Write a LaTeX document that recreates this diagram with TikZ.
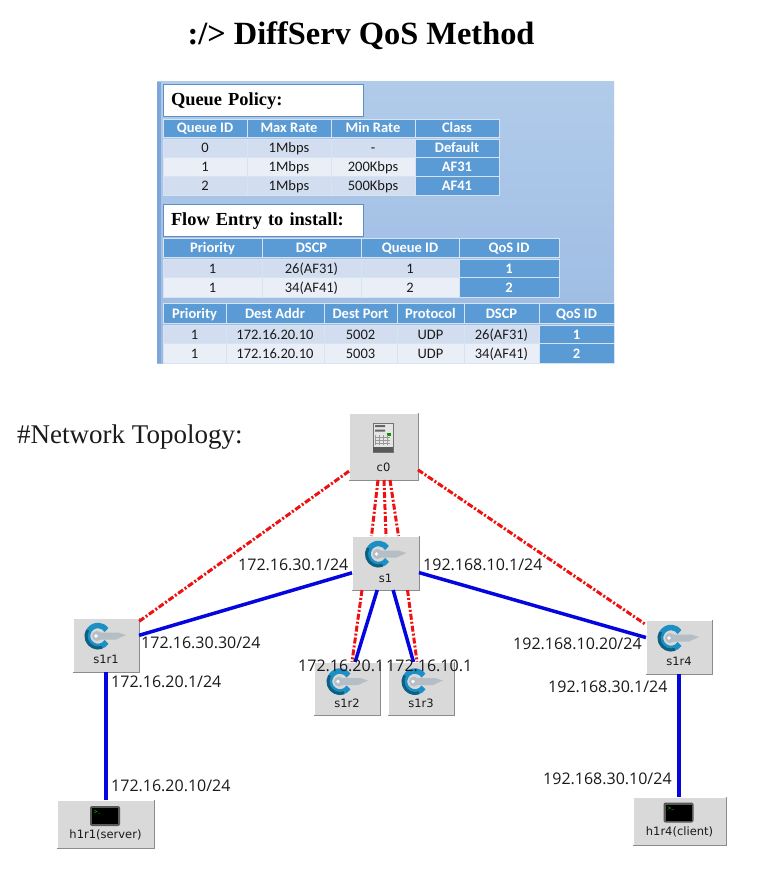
\documentclass[tikz,border=0pt]{standalone}
\usepackage{fontspec}
\setmainfont{Liberation Serif}
\newfontfamily\tablefont{Carlito}
\newfontfamily\labelfont{Open Sans}
\newfontfamily\devfont{DejaVu Sans}
\usetikzlibrary{calc}
\definecolor{hdr}{HTML}{5B9BD5}
\definecolor{rowa}{HTML}{D2DEEF}
\definecolor{rowb}{HTML}{EAEFF7}
\definecolor{cellline}{HTML}{D5E3F3}
\definecolor{paneltop}{HTML}{B1CBEA}
\definecolor{panelbot}{HTML}{9BBAE2}
\definecolor{panelstrip}{HTML}{7EA6D8}
\definecolor{boxline}{HTML}{5F8FC4}
\definecolor{devfill}{HTML}{D9D9D9}
\definecolor{ringa}{HTML}{1C90C4}
\definecolor{ringb}{HTML}{0F5F80}
\definecolor{keygrey}{HTML}{B4BEC4}
\definecolor{linkblue}{HTML}{0505E0}
\definecolor{linkred}{HTML}{EE1111}
\definecolor{txt}{HTML}{1A1A1A}
\tikzset{
  cell/.style={inner sep=0pt,outer sep=0pt,draw=cellline,line width=0.8pt,font=\tablefont\fontsize{14.5}{14.5}\selectfont,text height=10.5pt,text depth=0.5pt,text=txt},
  hcell/.style={cell,fill=hdr,text=white,font=\tablefont\bfseries\fontsize{14.5}{14.5}\selectfont},
  acell/.style={cell,fill=rowa},
  bcell/.style={cell,fill=rowb},
  heading/.style={draw=boxline,line width=0.8pt,fill=white,inner sep=0pt,outer sep=0pt,anchor=north west,text width=200pt,align=left,text height=14pt,text depth=2pt,font=\bfseries\fontsize{18.4}{19}\selectfont,text=black},
  device/.style={fill=devfill,inner sep=0pt,outer sep=0pt},
  devtext/.style={inner sep=0pt,font=\devfont\fontsize{11.5}{12}\selectfont,text=txt},
  iplabel/.style={inner sep=0pt,font=\labelfont\fontsize{16}{16}\selectfont,text=txt},
  blueline/.style={draw=linkblue,line width=3.5pt},
  redline/.style={draw=linkred,line width=3pt,dash pattern=on 6pt off 2pt on 2pt off 2pt},
  swicon/.pic={
    \draw[ringa,line width=5.5pt] (35:10.5) arc[start angle=35,end angle=325,radius=10.5];
    \draw[ringb,line width=3pt] (70:12) arc[start angle=70,end angle=210,radius=12];
    \fill[keygrey] (-1,0) circle[radius=5];
    \fill[keygrey] (0,-3.5) -- (20,-3.5) -- (28,-1) -- (18,3.5) -- (0,3.5) -- cycle;
    \fill[white] (-2,0) circle[radius=1.8];
  },
  termicon/.pic={
    \fill[black!65!white,rounded corners=2pt] (-15,-10) rectangle (15,10);
    \fill[black] (-13,-8) rectangle (13,8);
    \draw[green!60!black,line width=0.5pt] (-11,-6) -- (-8,-4.5) -- (-11,-3) (-7,-3) -- (-5,-3);
  },
  srvicon/.pic={
    \fill[white!90!black] (-10,-15) rectangle (10,14);
    \draw[black!55!white,line width=0.4pt] (-10,-15) rectangle (10,14);
    \fill[black!60!white] (-8,-13) rectangle (2,-11) (-8,-8.5) rectangle (2,-6.5);
    \fill[green!60!black] (4,-5) rectangle (8,-2);
    \foreach \yy in {-1,2,5}{\draw[black!40!white,line width=0.4pt] (-8,\yy) -- (7,\yy);}
    \foreach \xx in {-8,-4,0,4}{\draw[black!40!white,line width=0.4pt] (\xx,-3) -- (\xx,7);}
    \fill[black!65!white] (-10,9) rectangle (10,14);
  }
}
% \cellbox{style}{name}{x1}{y1}{x2}{y2}{text}
\newcommand{\cellbox}[7]{\node[#1,minimum width={(#5)-(#3)},minimum height={(#6)-(#4)}] (#2) at ({((#3)+(#5))/2},{((#4)+(#6))/2}) {#7};}
% \devbox{name}{x1}{y1}{x2}{y2}{text}{text y}
\newcommand{\devbox}[7]{%
  \node[device,minimum width={(#4)-(#2)},minimum height={(#5)-(#3)}] (#1) at ({((#2)+(#4))/2},{((#3)+(#5))/2}) {};
  \draw[white,line width=1pt] (#1.south west) -- (#1.north west) -- (#1.north east);
  \draw[black!45!white,line width=1pt] (#1.north east) -- (#1.south east) -- (#1.south west);
  \node[devtext] (#1-t) at ({((#2)+(#4))/2},#7) {#6};}
\begin{document}
\begin{tikzpicture}[x=1pt,y=-1pt]
\useasboundingbox (0,0) rectangle (764,882);
\fill[white] (0,0) rectangle (764,882);
\node[inner sep=0pt,font=\bfseries\fontsize{32.4}{32}\selectfont,text=black] (title) at (361,36) {:/> DiffServ QoS Method};
% panel
\shade[top color=paneltop,bottom color=panelbot] (157,82) rectangle (614,363);
\fill[panelstrip] (157,82) rectangle (161,363);
\node[heading,minimum height=32pt] (hq) at (163,84) {\hspace*{8pt}Queue Policy:};
\node[heading,minimum height=32pt] (hf) at (163,204) {\hspace*{8pt}Flow Entry to install:};
% queue table
\cellbox{hcell}{q00}{163}{119}{247}{137}{Queue ID}
\cellbox{hcell}{q01}{247}{119}{331}{137}{Max Rate}
\cellbox{hcell}{q02}{331}{119}{415}{137}{Min Rate}
\cellbox{hcell}{q03}{415}{119}{499}{137}{Class}
\cellbox{acell}{q10}{163}{139}{247}{157}{0}
\cellbox{acell}{q11}{247}{139}{331}{157}{1Mbps}
\cellbox{acell}{q12}{331}{139}{415}{157}{-}
\cellbox{hcell}{q13}{415}{139}{499}{157}{Default}
\cellbox{bcell}{q20}{163}{157}{247}{176}{1}
\cellbox{bcell}{q21}{247}{157}{331}{176}{1Mbps}
\cellbox{bcell}{q22}{331}{157}{415}{176}{200Kbps}
\cellbox{hcell}{q23}{415}{157}{499}{176}{AF31}
\cellbox{acell}{q30}{163}{176}{247}{195}{2}
\cellbox{acell}{q31}{247}{176}{331}{195}{1Mbps}
\cellbox{acell}{q32}{331}{176}{415}{195}{500Kbps}
\cellbox{hcell}{q33}{415}{176}{499}{195}{AF41}
% flow table
\cellbox{hcell}{f00}{163}{238}{262}{257}{Priority}
\cellbox{hcell}{f01}{262}{238}{361}{257}{DSCP}
\cellbox{hcell}{f02}{361}{238}{459}{257}{Queue ID}
\cellbox{hcell}{f03}{459}{238}{559}{257}{QoS ID}
\cellbox{acell}{f10}{163}{259}{262}{277}{1}
\cellbox{acell}{f11}{262}{259}{361}{277}{26(AF31)}
\cellbox{acell}{f12}{361}{259}{459}{277}{1}
\cellbox{hcell}{f13}{459}{259}{559}{277}{1}
\cellbox{bcell}{f20}{163}{277}{262}{297}{1}
\cellbox{bcell}{f21}{262}{277}{361}{297}{34(AF41)}
\cellbox{bcell}{f22}{361}{277}{459}{297}{2}
\cellbox{hcell}{f23}{459}{277}{559}{297}{2}
% rule table
\cellbox{hcell}{r00}{163}{303}{226}{323}{Priority}
\cellbox{hcell}{r01}{226}{303}{324}{323}{Dest Addr}
\cellbox{hcell}{r02}{324}{303}{397}{323}{Dest Port}
\cellbox{hcell}{r03}{397}{303}{464}{323}{Protocol}
\cellbox{hcell}{r04}{464}{303}{539}{323}{DSCP}
\cellbox{hcell}{r05}{539}{303}{614}{323}{QoS ID}
\cellbox{acell}{r10}{163}{325}{226}{343}{1}
\cellbox{acell}{r11}{226}{325}{324}{343}{172.16.20.10}
\cellbox{acell}{r12}{324}{325}{397}{343}{5002}
\cellbox{acell}{r13}{397}{325}{464}{343}{UDP}
\cellbox{acell}{r14}{464}{325}{539}{343}{26(AF31)}
\cellbox{hcell}{r15}{539}{325}{614}{343}{1}
\cellbox{bcell}{r20}{163}{343}{226}{363}{1}
\cellbox{bcell}{r21}{226}{343}{324}{363}{172.16.20.10}
\cellbox{bcell}{r22}{324}{343}{397}{363}{5003}
\cellbox{bcell}{r23}{397}{343}{464}{363}{UDP}
\cellbox{bcell}{r24}{464}{343}{539}{363}{34(AF41)}
\cellbox{hcell}{r25}{539}{343}{614}{363}{2}
% topology
\node[inner sep=0pt,anchor=west,font=\fontsize{27}{27}\selectfont,text=txt] (topo) at (17,437) {\#Network Topology:};
\devbox{c0}{349}{413}{418}{480}{c0}{467}
\devbox{s1}{352}{536}{419}{590}{s1}{578}
\devbox{s1r1}{73}{618}{139}{672}{s1r1}{659}
\devbox{s1r2}{314}{662}{380}{715}{s1r2}{703}
\devbox{s1r3}{388}{662}{454}{715}{s1r3}{703}
\devbox{s1r4}{646}{620}{712}{674}{s1r4}{661}
\devbox{h1r1}{57}{800}{154}{848}{h1r1(server)}{835}
\devbox{h1r4}{633}{797}{726}{845}{h1r4(client)}{832}
\pic at ($(c0.center)+(-0.5,-8.5)$) {srvicon};
\pic at ($(s1.center)+(-7,-9)$) {swicon};
\pic at ($(s1r1.center)+(-8,-9)$) {swicon};
\pic at ($(s1r2.center)+(-7,-7)$) {swicon};
\pic at ($(s1r3.center)+(-6,-7)$) {swicon};
\pic at ($(s1r4.center)+(-8,-9)$) {swicon};
\pic at ($(h1r1.center)+(-0.5,-8)$) {termicon};
\pic at ($(h1r4.center)+(-1,-8.5)$) {termicon};
% links
\draw[redline] (c0) -- (s1r1);
\draw[redline] (c0) -- (s1r4);
\draw[redline] ([xshift=-5.5]c0.south) -- ([xshift=-14]s1.north);
\draw[redline] ([xshift=0.5]c0.south) -- ([xshift=0.5]s1.north);
\draw[redline] ([xshift=6.5]c0.south) -- ([xshift=13]s1.north);
\draw[redline] ([xshift=-23.5]s1.south) -- ([xshift=5]s1r2.north);
\draw[redline] ([xshift=22]s1.south) -- ([xshift=-4]s1r3.north);
\draw[blueline] (s1) -- (s1r1);
\draw[blueline] (s1) -- (s1r2);
\draw[blueline] (s1) -- (s1r3);
\draw[blueline] (s1) -- (s1r4);
\draw[blueline] (s1r1.south) -- (s1r1.south |- h1r1.north);
\draw[blueline] (s1r4.south) -- (s1r4.south |- h1r4.north);
% address labels
\node[iplabel,anchor=west] (l1) at (238,565) {172.16.30.1/24};
\node[iplabel,anchor=west] (l2) at (423,565) {192.168.10.1/24};
\node[iplabel,anchor=west] (l3) at (141,643) {172.16.30.30/24};
\node[iplabel,anchor=west] (l4) at (111,682) {172.16.20.1/24};
\node[iplabel,anchor=west] (l5) at (111,786) {172.16.20.10/24};
\node[iplabel,anchor=west] (l6) at (298,666) {172.16.20.1};
\node[iplabel,anchor=west] (l7) at (386,666) {172.16.10.1};
\node[iplabel,anchor=west] (l8) at (513,644) {192.168.10.20/24};
\node[iplabel,anchor=west] (l9) at (548,687) {192.168.30.1/24};
\node[iplabel,anchor=west] (l10) at (543,779) {192.168.30.10/24};
\end{tikzpicture}
\end{document}
